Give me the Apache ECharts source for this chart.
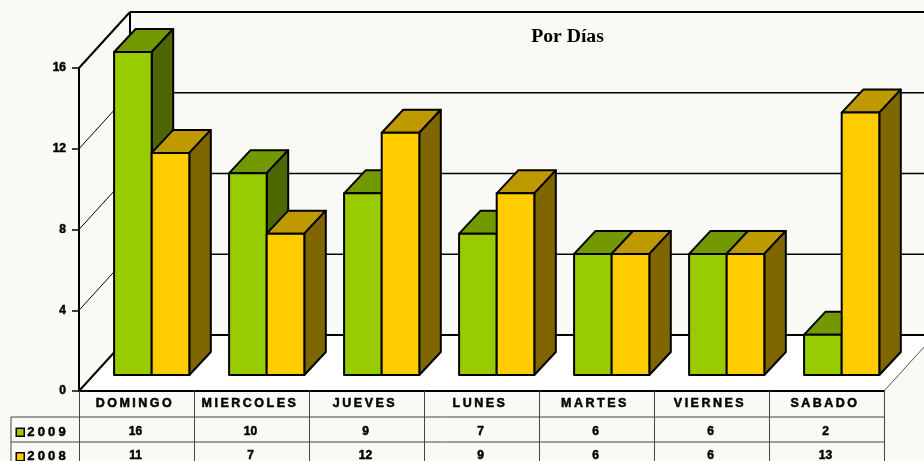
<!DOCTYPE html>
<html><head><meta charset="utf-8">
<style>html,body{margin:0;padding:0;background:#F9FAF5}#c{width:924px;height:461px}</style>
<script src="https://cdn.jsdelivr.net/npm/echarts@6/dist/echarts.min.js"></script>
</head><body><div id="c"></div>
<script>
const categories = ['DOMINGO','MIERCOLES','JUEVES','LUNES','MARTES','VIERNES','SABADO'];
const values2009 = [16,10,9,7,6,6,2];
const values2008 = [11,7,12,9,6,6,13];
const seriesNames = ['2009','2008'];
const yTicks = [0,4,8,12,16];
const titleText = 'Por Días';

// Letter spacing for the table headings (zrender has no option for it)
const spaced = new Set([...categories, ...seriesNames]);
const spacing = t => spaced.has(t) ? (seriesNames.includes(t) ? '3.2px' : '2.5px') : '0px';
for (const fn of ['fillText', 'strokeText']) {
  const raw = CanvasRenderingContext2D.prototype[fn];
  CanvasRenderingContext2D.prototype[fn] = function (t, x, y, m) {
    this.letterSpacing = spacing(t);
    return m === undefined ? raw.call(this, t, x, y) : raw.call(this, t, x, y, m);
  };
}

const SANS = '"Liberation Sans", Arial, sans-serif';
const HEAVY = {textBorderColor:'#000', textBorderWidth:0.5};
const WALL = {dx:51, dy:-56}, SHIFT = {dx:15.2, dy:-16}, BAR = {dx:21.5, dy:-23};
const TABLE = {left:11, row1:26, row2:51, row1Text:40.5, row2Text:65, bottom:70};
const LINE = '#000', TABLELINE = '#444';
const poly = (pts, fill) => ({type:'polygon', shape:{points:pts},
  style:{fill, stroke:'#000', lineWidth:2, lineJoin:'round'}});
const line = (x1,y1,x2,y2,w,c) => ({type:'line', shape:{x1,y1,x2,y2},
  style:{stroke:c||LINE, lineWidth:w, fill:null}});

function frameItem(params, api) {
  const v = api.value(0);
  const zero = api.coord([0, 0]), p = api.coord([0, v]);
  const band = api.size([1, 0])[0];
  const L = p[0] - band/2, R = L + band*categories.length;
  const kids = [];
  if (v === 0) {
    const y = p[1];
    kids.push({type:'polygon', shape:{points:[[L,y],[R,y],[R+WALL.dx,y+WALL.dy],[L+WALL.dx,y+WALL.dy]]},
      style:{fill:'#fff', stroke:null}});
    kids.push(line(R,y,R+WALL.dx,y+WALL.dy,1,'#555'));
    // table rules
    kids.push(line(L+TABLE.left-79,y+TABLE.row1,R,y+TABLE.row1,1,TABLELINE));
    kids.push(line(L+TABLE.left-79,y+TABLE.row2,R,y+TABLE.row2,1,TABLELINE));
    kids.push(line(L+TABLE.left-79,y+TABLE.row1,L+TABLE.left-79,y+TABLE.bottom,1,TABLELINE));
  }
  const edge = v === 0 || v === yTicks[yTicks.length-1];
  kids.push(line(L,p[1],L+WALL.dx,p[1]+WALL.dy,edge?2:1));
  kids.push(line(L+WALL.dx,p[1]+WALL.dy,R+WALL.dx,p[1]+WALL.dy,edge?2:1.4));
  if (v === yTicks[yTicks.length-1]) kids.push(line(L+WALL.dx,p[1]+WALL.dy,L+WALL.dx,zero[1]+WALL.dy,2));
  return {type:'group', children:kids};
}

function barRenderer(side, front, top, flank, textOffset) {
  return function (params, api) {
    const i = api.value(0), v = api.value(1);
    const base = api.coord([i, 0]), head = api.coord([i, v]);
    const w = api.size([1, 0])[0] * 0.327;
    const x0 = base[0] + SHIFT.dx + (side < 0 ? -w : 0), x1 = x0 + w;
    const yb = base[1] + SHIFT.dy, yt = head[1] + SHIFT.dy;
    return {type:'group', children:[
      poly([[x0,yt],[x0+BAR.dx,yt+BAR.dy],[x1+BAR.dx,yt+BAR.dy],[x1,yt]], top),
      poly([[x1,yt],[x1+BAR.dx,yt+BAR.dy],[x1+BAR.dx,yb+BAR.dy],[x1,yb]], flank),
      poly([[x0,yt],[x1,yt],[x1,yb],[x0,yb]], front),
      {type:'text', style:{text:String(v), x:base[0]-1, y:base[1]+textOffset, align:'center',
        verticalAlign:'middle', font:'bold 12px '+SANS, fill:'#000', stroke:'#000', lineWidth:0.5}}
    ]};
  };
}

const chart = echarts.init(document.getElementById('c'), null, {renderer:'canvas'});
chart.setOption({
  animation:false,
  backgroundColor:'#F9FAF5',
  title:{text:titleText, left:562.5, top:22, textAlign:'center',
    textStyle:{fontFamily:'"Liberation Serif", serif', fontWeight:'bold', fontSize:19.7, color:'#000'}},
  grid:{left:79, right:40, top:68, bottom:70},
  legend:{orient:'vertical', left:15.5, top:425.5, height:60, padding:0, icon:'rect', itemWidth:8, itemHeight:8, itemGap:11,
    data:seriesNames, selectedMode:false,
    itemStyle:{borderColor:'#000', borderWidth:1.5},
    textStyle:{fontFamily:SANS, fontWeight:'bold', fontSize:13, color:'#000', padding:[0,0,0,-2], ...HEAVY}},
  xAxis:{type:'category', data:categories, z:3,
    axisLine:{lineStyle:{color:'#000', width:2}},
    axisTick:{show:true, length:70, lineStyle:{color:TABLELINE, width:1}},
    axisLabel:{interval:0, margin:6, padding:[0,3,0,0], fontFamily:SANS, fontWeight:'bold', fontSize:12.5, color:'#000', ...HEAVY}},
  yAxis:{type:'value', min:0, max:16, interval:4, z:3,
    axisLine:{show:true, lineStyle:{color:'#000', width:2}},
    axisTick:{show:true, length:7, lineStyle:{color:'#000', width:1.5}},
    axisLabel:{margin:13, padding:[2,0,0,0], fontFamily:SANS, fontWeight:'bold', fontSize:12, color:'#000', ...HEAVY},
    splitLine:{show:false}},
  series:[
    {type:'custom', name:'frame', data:yTicks.map(v=>[v]), encode:{y:0}, renderItem:frameItem, silent:true, z:1},
    {type:'custom', name:seriesNames[0], data:values2009.map((v,i)=>[i,v]), encode:{x:0,y:1},
      itemStyle:{color:'#99CC00'}, renderItem:barRenderer(-1,'#99CC00','#739900','#4D6600',TABLE.row1Text), z:2},
    {type:'custom', name:seriesNames[1], data:values2008.map((v,i)=>[i,v]), encode:{x:0,y:1},
      itemStyle:{color:'#FFCC00'}, renderItem:barRenderer(1,'#FFCC00','#BF9900','#806600',TABLE.row2Text), z:2}
  ]
});
</script></body></html>
